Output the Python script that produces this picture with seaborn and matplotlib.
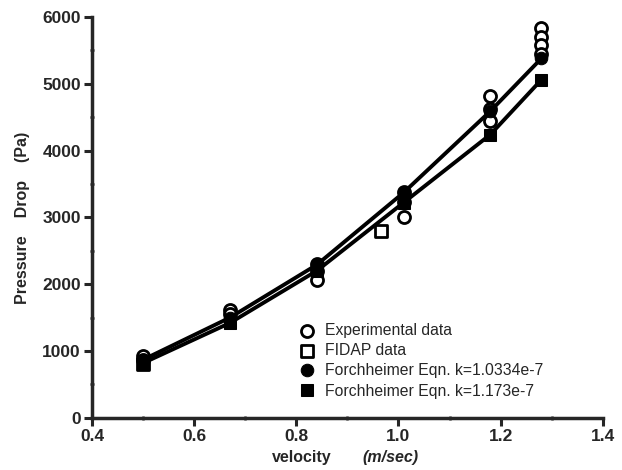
import numpy as np
import pandas as pd
import seaborn as sns
import matplotlib.pyplot as plt
from matplotlib.ticker import MultipleLocator

# values
exp_v = [0.50, 0.50, 0.67, 0.67, 0.84, 0.84, 0.84, 1.01, 1.01, 1.01,
         1.18, 1.18, 1.18, 1.28, 1.28, 1.28, 1.28]
exp_dp = [930, 870, 1620, 1550, 2300, 2200, 2070, 3380, 3230, 3000,
          4820, 4620, 4440, 5840, 5700, 5580, 5450]

fidap_v = [0.50, 0.966]
fidap_dp = [810, 2800]

forch_v = [0.50, 0.67, 0.84, 1.01, 1.18, 1.28]
forch1_dp = [870, 1500, 2290, 3370, 4590, 5380]
forch2_dp = [820, 1420, 2200, 3220, 4240, 5060]

sns.set_style("ticks")
plt.rcParams['font.family'] = ['Liberation Sans', 'DejaVu Sans']

fig = plt.figure(figsize=(6.22, 4.70), dpi=100)
ax = fig.add_axes([0.148, 0.111, 0.821, 0.853])

lw = 2.8
sns.scatterplot(x=fidap_v, y=fidap_dp, ax=ax, marker='s', s=75,
                facecolor='white', edgecolor='black', linewidth=2,
                label='FIDAP data', zorder=3)
sns.scatterplot(x=exp_v, y=exp_dp, ax=ax, marker='o', s=75,
                facecolor='white', edgecolor='black', linewidth=2,
                label='Experimental data', zorder=3)
sns.lineplot(x=forch_v, y=forch1_dp, ax=ax, color='black', lw=lw,
             marker='o', markersize=9, markeredgecolor='black',
             label='Forchheimer Eqn. k=1.0334e-7', zorder=4)
sns.lineplot(x=forch_v, y=forch2_dp, ax=ax, color='black', lw=lw,
             marker='s', markersize=9, markeredgecolor='black',
             label='Forchheimer Eqn. k=1.173e-7', zorder=4)

ax.set_xlim(0.4, 1.4)
ax.set_ylim(0, 6000)
ax.xaxis.set_minor_locator(MultipleLocator(0.1))
ax.yaxis.set_major_locator(MultipleLocator(1000))
ax.yaxis.set_minor_locator(MultipleLocator(500))
ax.set_xticks(np.arange(0.4, 1.41, 0.2))
ax.set_xticklabels(['0.4', '0.6', '0.8', '1.0', '1.2', '1.4'])

sns.despine(ax=ax)
for s in ['left', 'bottom']:
    ax.spines[s].set_linewidth(2.5)
ax.tick_params(which='major', length=6, width=2.2, labelsize=12.5, pad=2)
ax.tick_params(which='minor', length=3, width=1.8, direction='inout')
for lab in ax.get_xticklabels() + ax.get_yticklabels():
    lab.set_fontweight('bold')

ax.set_ylabel('Pressure    Drop    (Pa)', fontsize=11.5, fontweight='bold',
              labelpad=9)
ax.set_xlabel('')
fig.text(0.437, 0.018, 'velocity', fontsize=11.5, fontweight='bold', ha='left')
fig.text(0.582, 0.018, '(m/sec)', fontsize=11.5, fontweight='bold',
         style='italic', ha='left')

h, l = ax.get_legend_handles_labels()
order = [1, 0, 2, 3]
leg = ax.legend([h[i] for i in order], [l[i] for i in order],
                loc='upper left', bbox_to_anchor=(0.39, 0.255),
                frameon=False, fontsize=11.3, handlelength=1.0,
                handletextpad=0.65, labelspacing=0.32, borderpad=0)
for lh in leg.legend_handles:
    try:
        lh.set_linestyle('none')
    except Exception:
        pass

fig.savefig('out.png', dpi=100)
